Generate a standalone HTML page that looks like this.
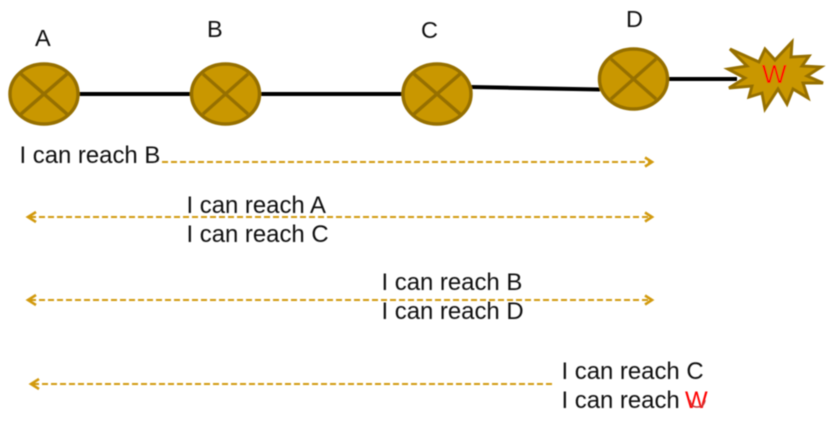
<!DOCTYPE html>
<html>
<head>
<meta charset="utf-8">
<style>
html,body{margin:0;padding:0;background:#fff}
svg{display:block}
text{font-family:"Liberation Sans",sans-serif;fill:#111;font-size:23.9px}
.lbl{font-size:23.5px}
.n{fill:#c99700;stroke:#967000;stroke-width:3.5}
.x{stroke:#967000;stroke-width:3.5;fill:none}
.link{stroke:#000;stroke-width:4;fill:none}
.d{stroke:#d29a0c;stroke-width:2;stroke-dasharray:6 3;fill:none}
.h{stroke:#d29a0c;stroke-width:2.6;fill:none}
</style>
</head>
<body>
<svg width="831" height="432" viewBox="0 0 831 432" xmlns="http://www.w3.org/2000/svg">
<defs><filter id="b" x="-5%" y="-5%" width="110%" height="110%"><feGaussianBlur stdDeviation="0.45"/></filter></defs>
<g filter="url(#b)">
<path class="link" d="M78 94H192M259 94H404M471 87L600 89.500M667 79H737"/>
<ellipse class="n" cx="44" cy="94" rx="34" ry="30"/>
<path class="x" d="M21 74L67 114M67 74L21 114"/>
<ellipse class="n" cx="225.500" cy="94" rx="34" ry="30"/>
<path class="x" d="M203 74L248 114M248 74L203 114"/>
<ellipse class="n" cx="437" cy="94" rx="34" ry="30"/>
<path class="x" d="M414 74L460 114M460 74L414 114"/>
<ellipse class="n" cx="633.500" cy="79" rx="34" ry="30"/>
<path class="x" d="M611 59L656 99M656 59L611 99"/>
<polygon fill="#c99700" stroke="#967000" stroke-width="3" stroke-linejoin="miter" points="730,49 759,62 765,49 775,60 792,42 791,57 809,56 802,66 821,67 807,76 823,83 803,83 808,98 793,89 787,104 778,89 765,109 762,93 749,97 752,86 729,88 745,78 728,69 747,66"/>
<text x="762" y="83" style="fill:#f00;font-size:26px">W</text>
<text class="lbl" x="35" y="46">A</text>
<text class="lbl" x="207" y="37">B</text>
<text class="lbl" x="421" y="38">C</text>
<text class="lbl" x="626" y="27">D</text>
<text x="19.500" y="163">I can reach B</text>
<text x="186.500" y="213">I can reach A</text>
<text x="186.500" y="242">I can reach C</text>
<text x="381.500" y="290">I can reach B</text>
<text x="381.500" y="319">I can reach D</text>
<text x="561.500" y="379">I can reach C</text>
<text x="561.500" y="408">I can reach</text>
<text x="685" y="408" style="fill:#f00;font-size:24px">W</text>
<path d="M690 400Q691 407 697 407Q704 407 705 400" style="fill:none;stroke:#c33;stroke-width:1.500"/>
<path class="d" d="M162 162H650"/>
<path class="h" d="M645 157.500L652 162L645 166.500"/>
<path class="d" d="M30 217H650"/>
<path class="h" d="M645 212.500L652 217L645 221.500M36 212L28 217L36 222"/>
<path class="d" d="M30 300H650"/>
<path class="h" d="M645 295.500L652 300L645 304.500M36 295L28 300L36 305"/>
<path class="d" d="M33 384H552"/>
<path class="h" d="M39 379L31 384L39 389"/>
</g>
</svg>
</body>
</html>
